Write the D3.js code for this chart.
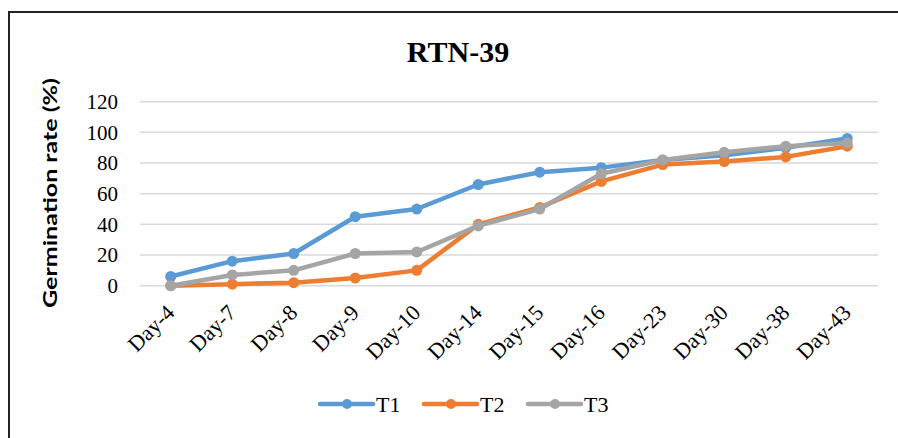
<!DOCTYPE html>
<html>
<head>
<meta charset="utf-8">
<script src="https://cdn.jsdelivr.net/npm/d3@7"></script>
<style>
  body { margin: 0; background: #fff; }
  svg { display: block; }
</style>
</head>
<body>
<svg class="chart" width="898" height="438"></svg>
<script>
var days = ["Day-4", "Day-7", "Day-8", "Day-9", "Day-10", "Day-14", "Day-15", "Day-16", "Day-23", "Day-30", "Day-38", "Day-43"];
var t1 = [6, 16, 21, 45, 50, 66, 74, 77, 82, 85, 90, 96];
var t2 = [0, 1, 2, 5, 10, 40, 51, 68, 79, 81, 84, 91];
var t3 = [0, 7, 10, 21, 22, 39, 50, 73, 82, 87, 91, 93];
var yTicks = [0, 20, 40, 60, 80, 100, 120];
var seriesNames = ["T1", "T2", "T3"];
var colors = ["#5b9bd5", "#ed7d31", "#a5a5a5"];

var serif = "'Times New Roman', 'Liberation Serif', serif";

var series = [t1, t2, t3].map(function(vals, i) {
  return { name: seriesNames[i], color: colors[i], values: vals.map(function(v, j) { return { day: days[j], value: v }; }) };
});

var svg = d3.select(".chart");

// frame (only left and top edges show in the picture)
svg.append("path")
    .attr("d", "M9,438 L9,12 L898,12")
    .attr("fill", "none")
    .attr("stroke", "#222")
    .attr("stroke-width", 2);

var x = d3.scaleBand()
    .domain(days)
    .range([140, 878]);

var y = d3.scaleLinear()
    .domain([0, 120])
    .range([285.7, 101.7]);

// gridlines
svg.append("g")
  .selectAll("line")
  .data(yTicks)
  .enter().append("line")
    .attr("x1", 140)
    .attr("x2", 878)
    .attr("y1", function(d) { return y(d); })
    .attr("y2", function(d) { return y(d); })
    .attr("stroke", "#d9d9d9")
    .attr("stroke-width", 1.5);

// y tick labels
svg.append("g")
  .selectAll("text")
  .data(yTicks)
  .enter().append("text")
    .attr("x", 118)
    .attr("y", function(d) { return y(d); })
    .attr("dy", "0.35em")
    .attr("text-anchor", "end")
    .style("font-family", serif)
    .attr("font-size", 21)
    .text(function(d) { return d; });

// x tick labels
svg.append("g")
  .selectAll("text")
  .data(days)
  .enter().append("text")
    .attr("transform", function(d) {
      return "translate(" + (x(d) + x.bandwidth() / 2 + 5) + ",314) rotate(-45)";
    })
    .attr("text-anchor", "end")
    .style("font-family", serif)
    .attr("font-size", 22)
    .text(function(d) { return d; });

// title
svg.append("text")
    .attr("x", 458)
    .attr("y", 62)
    .attr("text-anchor", "middle")
    .style("font-family", serif)
    .attr("font-weight", "bold")
    .attr("font-size", 30)
    .text("RTN-39");

// y axis title
svg.append("text")
    .attr("transform", "translate(57,193) rotate(-90)")
    .attr("text-anchor", "middle")
    .style("font-family", "Lato, 'Open Sans', sans-serif")
    .attr("font-weight", "bold")
    .attr("font-size", 19)
    .attr("textLength", 230)
    .attr("lengthAdjust", "spacingAndGlyphs")
    .text("Germination rate (%)");

var line = d3.line()
    .x(function(d) { return x(d.day) + x.bandwidth() / 2; })
    .y(function(d) { return y(d.value); });

var sg = svg.append("g")
  .selectAll("g")
  .data(series)
  .enter().append("g");

sg.append("path")
    .attr("fill", "none")
    .attr("stroke", function(d) { return d.color; })
    .attr("stroke-width", 4.5)
    .attr("stroke-linejoin", "round")
    .attr("stroke-linecap", "round")
    .attr("d", function(d) { return line(d.values); });

sg.selectAll("circle")
  .data(function(d) { return d.values.map(function(v) { return { v: v, color: d.color }; }); })
  .enter().append("circle")
    .attr("cx", function(d) { return x(d.v.day) + x.bandwidth() / 2; })
    .attr("cy", function(d) { return y(d.v.value); })
    .attr("r", 5.5)
    .attr("fill", function(d) { return d.color; });

// legend
var legend = svg.append("g")
  .selectAll("g")
  .data(series)
  .enter().append("g")
    .attr("transform", function(d, i) { return "translate(" + (320 + i * 104) + ",404)"; });

legend.append("line")
    .attr("x1", 0)
    .attr("x2", 53)
    .attr("stroke", function(d) { return d.color; })
    .attr("stroke-width", 4.5)
    .attr("stroke-linecap", "round");

legend.append("circle")
    .attr("cx", 27)
    .attr("r", 5)
    .attr("fill", function(d) { return d.color; });

legend.append("text")
    .attr("x", 56)
    .attr("dy", "0.35em")
    .style("font-family", serif)
    .attr("font-size", 22)
    .text(function(d) { return d.name; });
</script>
</body>
</html>
